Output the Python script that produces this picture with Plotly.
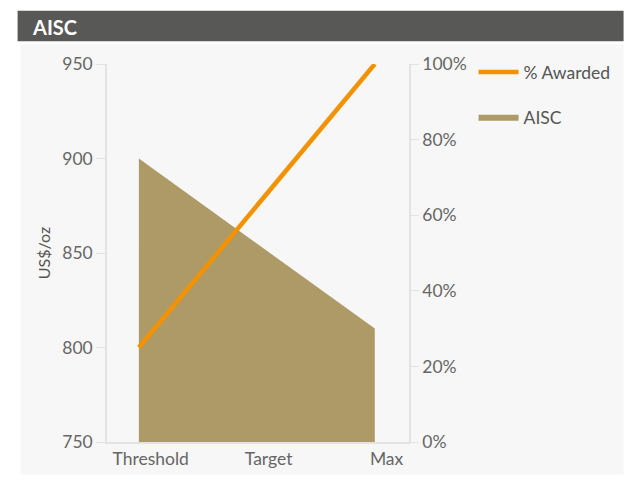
import plotly.graph_objects as go

categories = ["Threshold", "Target", "Max"]
aisc_values = [900, 855, 810]
awarded_pct = [25, 62.5, 100]
left_ticks = [750, 800, 850, 900, 950]
right_ticks = [0, 20, 40, 60, 80, 100]

x_idx = list(range(len(categories)))

L, R, T, B = 107, 411, 64, 448
W, H = 627, 481
def px(p):
    return (p - L) / (R - L)
def py(p):
    return (B - p) / (B - T)

FONT = "Lato"
fig = go.Figure()
fig.add_trace(go.Scatter(
    x=x_idx, y=aisc_values, name="AISC", mode="lines",
    line=dict(width=0, color="#ad9a66"), fill="tozeroy", fillcolor="#ad9a66",
    legendgroup="a", legendrank=2, yaxis="y", hoverinfo="skip",
))
fig.add_trace(go.Scatter(
    x=x_idx, y=awarded_pct, name="% Awarded", mode="lines",
    line=dict(width=4.5, color="#f39200"), legendgroup="b", legendrank=1, yaxis="y2",
))

fig.update_layout(
    width=W, height=H,
    margin=dict(l=L, r=W - R, t=T, b=H - B),
    paper_bgcolor="white", plot_bgcolor="rgba(0,0,0,0)",
    font=dict(family=FONT, color="#666666", size=17),
    xaxis=dict(
        range=[-0.27, 2.29], tickvals=[i + 0.1 for i in x_idx], ticktext=categories,
        showgrid=False, zeroline=False, showline=True, linecolor="#e3e3e3", linewidth=1.5,
        ticks="", tickfont=dict(size=17.5, color="#666666"),
    ),
    yaxis=dict(
        range=[750, 950], tickvals=left_ticks, showgrid=False, zeroline=False,
        showline=True, linecolor="#e3e3e3", linewidth=1.5, ticks="outside", ticklen=9,
        tickcolor="#e3e3e3", tickfont=dict(size=17.5, color="#666666"),
        title=dict(text="US$/oz", font=dict(size=16, color="#555555"), standoff=8),
    ),
    yaxis2=dict(
        range=[0, 100], tickvals=right_ticks, ticktext=[f"{v}%" for v in right_ticks],
        overlaying="y", side="right",
        showgrid=False, zeroline=False, showline=True, linecolor="#e3e3e3", linewidth=1.5,
        ticks="outside", ticklen=8, tickcolor="#e3e3e3", tickfont=dict(size=17.5, color="#666666"),
    ),
    legend=dict(
        x=px(476), y=py(54), xanchor="left", yanchor="top",
        traceorder="grouped", tracegroupgap=19,
        font=dict(size=17.5, color="#555555"), bgcolor="rgba(0,0,0,0)", itemwidth=40,
    ),
    showlegend=True,
)

fig.add_shape(type="rect", xref="paper", yref="paper", layer="below",
              x0=px(20), x1=px(627), y0=py(481), y1=py(44),
              fillcolor="#f7f7f7", line=dict(width=0))
fig.add_shape(type="rect", xref="paper", yref="paper", layer="below",
              x0=px(17), x1=px(627), y0=py(41), y1=py(10),
              fillcolor="#585856", line=dict(width=0))
fig.add_annotation(text="<b>AISC</b>", xref="paper", yref="paper",
                   x=px(29), y=py(26), xanchor="left", yanchor="middle",
                   showarrow=False, font=dict(family=FONT, size=20, color="white"))

fig.write_html("out.html")
